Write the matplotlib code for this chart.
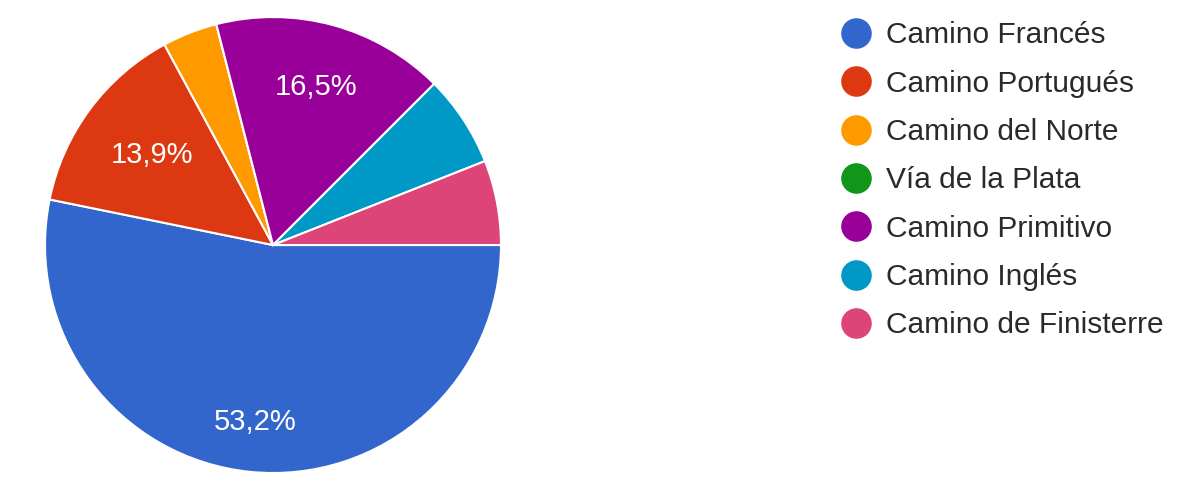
import matplotlib.pyplot as plt
from matplotlib.lines import Line2D

# datos (porcentajes)
caminos = ['Camino Francés', 'Camino Portugués', 'Camino del Norte', 'Vía de la Plata',
           'Camino Primitivo', 'Camino Inglés', 'Camino de Finisterre']
porcentajes = [53.2, 13.9, 3.9, 0.0, 16.5, 6.5, 6.0]
colores = ['#3366cc', '#dc3912', '#ff9900', '#109618', '#990099', '#0099c6', '#dd4477']

plt.rcParams['font.family'] = ['Liberation Sans', 'DejaVu Sans']

fig = plt.figure(figsize=(12, 4.94), dpi=100)
ax = fig.add_axes([0.0375, 0.0425, 0.38, 0.923])


def etiqueta(pct):
    # solo los trozos grandes llevan texto, con coma decimal
    if pct < 10:
        return ''
    return ('%.1f%%' % pct).replace('.', ',')


wedges, textos, pcts = ax.pie(porcentajes, colors=colores, startangle=0, counterclock=False,
                              autopct=etiqueta, pctdistance=0.72,
                              wedgeprops={'edgecolor': 'white', 'linewidth': 1.5},
                              textprops={'color': 'white', 'fontsize': 21})

# distancia de cada etiqueta al centro, como en el original
dist = [0.78, 0.66, 0.72, 0.72, 0.72, 0.72, 0.72]
for t, d in zip(pcts, dist):
    x, y = t.get_position()
    t.set_position((x * d / 0.72, y * d / 0.72))

ax.set_xlim(-1.0, 1.0)
ax.set_ylim(-1.0, 1.0)
ax.set_aspect('equal')

handles = [Line2D([], [], linestyle='none', marker='o', markersize=21, markerfacecolor=c,
                  markeredgecolor=c) for c in colores]
fig.legend(handles, caminos, loc='upper left', bbox_to_anchor=(0.676, 1.011), frameon=False,
           fontsize=21.5, labelspacing=0.68, handletextpad=0.4, handlelength=1.2,
           labelcolor='#2a2a2a')

plt.savefig('out.png', dpi=100)
